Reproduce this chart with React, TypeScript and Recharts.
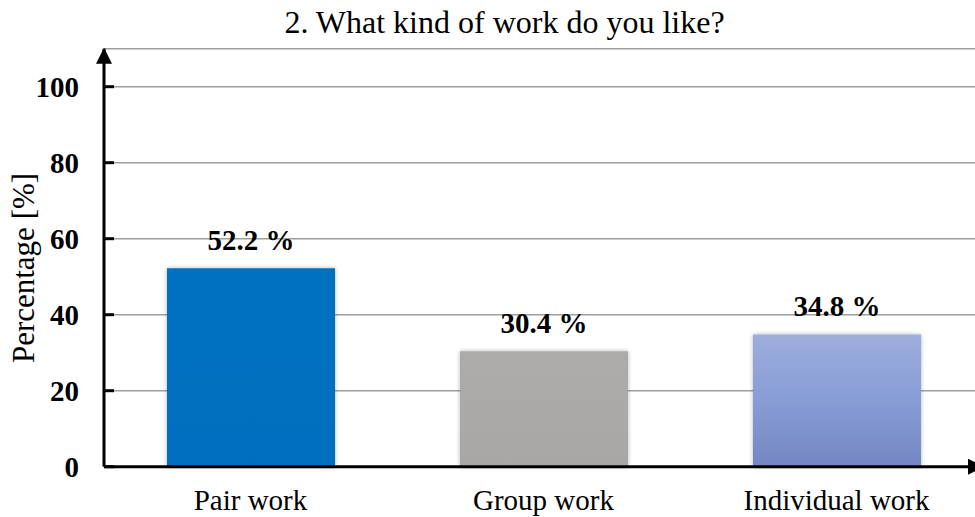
import React from 'react';
import { BarChart, Bar, XAxis, YAxis, CartesianGrid, LabelList, Cell } from 'recharts';

const categories = ['Pair work', 'Group work', 'Individual work'];
const percentages = [52.2, 30.4, 34.8];
const yTicks = [0, 20, 40, 60, 80, 100];
const barFills = ['url(#pairFill)', 'url(#groupFill)', 'url(#indivFill)'];

const data = categories.map((name, i) => ({ name, value: percentages[i] }));

const FONT = '"Liberation Serif", "Times New Roman", serif';

const YTick = ({ y, payload }: any) => (
  <g>
    <line x1={104} x2={114} y1={y} y2={y} stroke="#000" strokeWidth={3} />
    <text
      x={79}
      y={y}
      textAnchor="end"
      dominantBaseline="central"
      fontFamily={FONT}
      fontWeight="bold"
      fontSize={29}
      fill="#000"
    >
      {payload.value}
    </text>
  </g>
);

const XTick = ({ x, payload }: any) => (
  <text x={x} y={510} textAnchor="middle" fontFamily={FONT} fontSize={29} fill="#000">
    {payload.value}
  </text>
);

const YTitle = () => (
  <text
    x={0}
    y={0}
    transform="translate(34, 268) rotate(-90)"
    textAnchor="middle"
    fontFamily={FONT}
    fontSize={31}
    fill="#000"
  >
    Percentage [%]
  </text>
);

const ValueLabel = (props: any) => {
  const { x, y, width, value } = props;
  return (
    <text
      x={x + width / 2}
      y={y - 18}
      textAnchor="middle"
      fontFamily={FONT}
      fontWeight="bold"
      fontSize={29}
      fill="#000"
    >
      {value} %
    </text>
  );
};

export default function App() {
  return (
    <div
      style={{
        position: 'absolute',
        left: 0,
        top: 0,
        width: 975,
        height: 517,
        overflow: 'hidden',
        background: '#fff',
      }}
    >
      <div
        style={{
          position: 'absolute',
          left: 0,
          top: 7,
          width: 1009,
          textAlign: 'center',
          fontFamily: FONT,
          fontSize: 32,
          lineHeight: '31px',
          color: '#000',
        }}
      >
        2. What kind of work do you like?
      </div>
      <BarChart
        width={1000}
        height={517}
        data={data}
        margin={{ top: 48.7, right: 17, bottom: 0, left: 0 }}
        barSize={168}
      >
        <defs>
          <linearGradient id="pairFill" x1="0" y1="0" x2="0" y2="1">
            <stop offset="0%" stopColor="#0071C1" />
            <stop offset="100%" stopColor="#006EBE" />
          </linearGradient>
          <linearGradient id="groupFill" x1="0" y1="0" x2="0" y2="1">
            <stop offset="0%" stopColor="#AFABAB" />
            <stop offset="100%" stopColor="#AAA6A6" />
          </linearGradient>
          <linearGradient id="indivFill" x1="0" y1="0" x2="0" y2="1">
            <stop offset="0%" stopColor="#9DAEDC" />
            <stop offset="50%" stopColor="#889CD6" />
            <stop offset="100%" stopColor="#7487C4" />
          </linearGradient>
          <filter id="barShadow" x="-10%" y="-10%" width="120%" height="120%">
            <feDropShadow dx="0" dy="0" stdDeviation="2" floodColor="#000" floodOpacity="0.3" />
          </filter>
          <marker
            id="axisArrow"
            viewBox="0 0 16 16"
            refX="15"
            refY="8"
            markerWidth="16"
            markerHeight="16"
            markerUnits="userSpaceOnUse"
            orient="auto-start-reverse"
          >
            <path d="M0,0 L16,8 L0,16 z" fill="#000" />
          </marker>
        </defs>
        <CartesianGrid horizontal vertical={false} stroke="#9E9E9E" strokeWidth={1.5} />
        <XAxis
          dataKey="name"
          height={50.3}
          tickLine={false}
          axisLine={{ stroke: '#000', strokeWidth: 3, markerEnd: 'url(#axisArrow)' }}
          tick={<XTick />}
          interval={0}
        />
        <YAxis
          width={104}
          domain={[0, 110]}
          ticks={yTicks}
          tickLine={false}
          axisLine={{ stroke: '#000', strokeWidth: 3, markerStart: 'url(#axisArrow)' }}
          tick={<YTick />}
          label={<YTitle />}
        />
        <Bar dataKey="value" isAnimationActive={false} filter="url(#barShadow)">
          {data.map((d, i) => (
            <Cell key={d.name} fill={barFills[i]} />
          ))}
          <LabelList dataKey="value" content={<ValueLabel />} />
        </Bar>
      </BarChart>
    </div>
  );
}
